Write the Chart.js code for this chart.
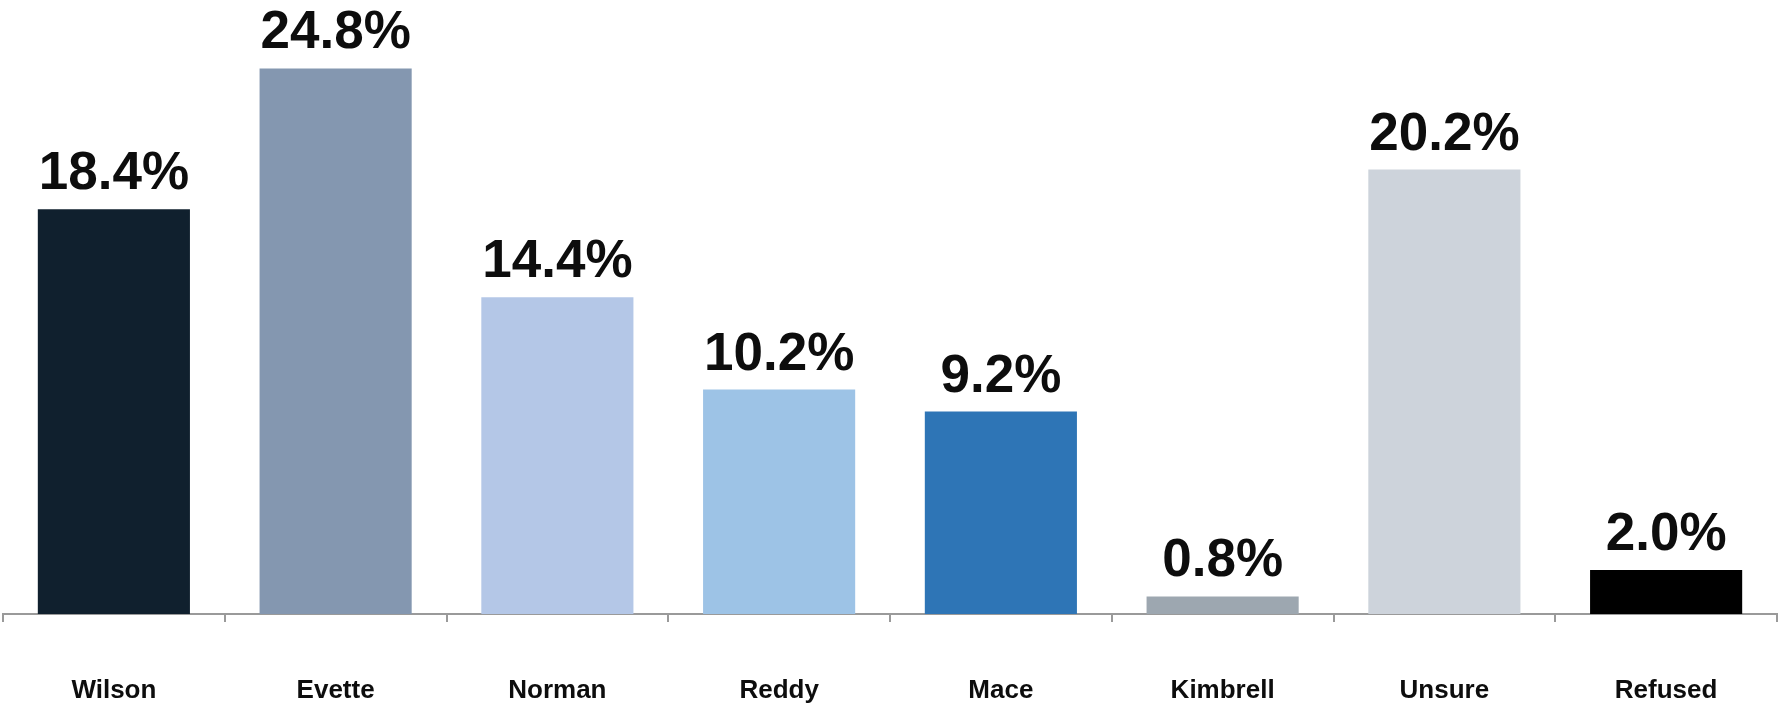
<!DOCTYPE html>
<html>
<head>
<meta charset="utf-8">
<script src="https://cdn.jsdelivr.net/npm/chart.js@4/dist/chart.umd.min.js"></script>
<style>
  html, body { margin: 0; padding: 0; background: #ffffff; }
  #wrap { width: 1780px; height: 705px; position: relative; }
</style>
</head>
<body>
<div id="wrap"><canvas id="c" width="1780" height="705"></canvas></div>
<script>
const categories = ["Wilson", "Evette", "Norman", "Reddy", "Mace", "Kimbrell", "Unsure", "Refused"];
const values = [18.4, 24.8, 14.4, 10.2, 9.2, 0.8, 20.2, 2.0];
const barColors = ["#10202E", "#8497B0", "#B4C7E7", "#9DC3E6", "#2E75B6", "#9DA7B0", "#CDD3DB", "#000000"];

const valueLabels = {
  id: 'valueLabels',
  afterDatasetsDraw(chart) {
    const ctx = chart.ctx;
    const meta = chart.getDatasetMeta(0);
    ctx.save();
    ctx.font = 'bold 53px "Liberation Sans", Arial, sans-serif';
    ctx.fillStyle = '#0d0d0d';
    ctx.textAlign = 'center';
    ctx.textBaseline = 'alphabetic';
    meta.data.forEach((bar, i) => {
      const v = chart.data.datasets[0].data[i];
      ctx.fillText(v.toFixed(1) + '%', bar.x, bar.y - 20);
    });
    ctx.restore();
  }
};

new Chart(document.getElementById('c'), {
  type: 'bar',
  data: {
    labels: categories,
    datasets: [{
      data: values,
      backgroundColor: barColors,
      borderWidth: 0,
      categoryPercentage: 1.0,
      barPercentage: 0.686
    }]
  },
  options: {
    responsive: false,
    animation: false,
    devicePixelRatio: 1,
    layout: { padding: { left: 3, right: 3, top: 64, bottom: 0 } },
    plugins: { legend: { display: false }, tooltip: { enabled: false } },
    scales: {
      x: {
        grid: {
          display: true,
          drawOnChartArea: false,
          drawTicks: true,
          tickLength: 8,
          color: '#9a9a9a',
          lineWidth: 2,
          offset: true
        },
        border: { display: true, color: '#9a9a9a', width: 2 },
        ticks: {
          padding: 53,
          color: '#0d0d0d',
          font: { family: '"Liberation Sans", Arial, sans-serif', size: 26, weight: 'bold' },
          maxRotation: 0,
          autoSkip: false
        },
        afterFit(scale) { scale.height = 91; }
      },
      y: {
        display: false,
        min: 0,
        max: 25
      }
    }
  },
  plugins: [valueLabels]
});
</script>
</body>
</html>
